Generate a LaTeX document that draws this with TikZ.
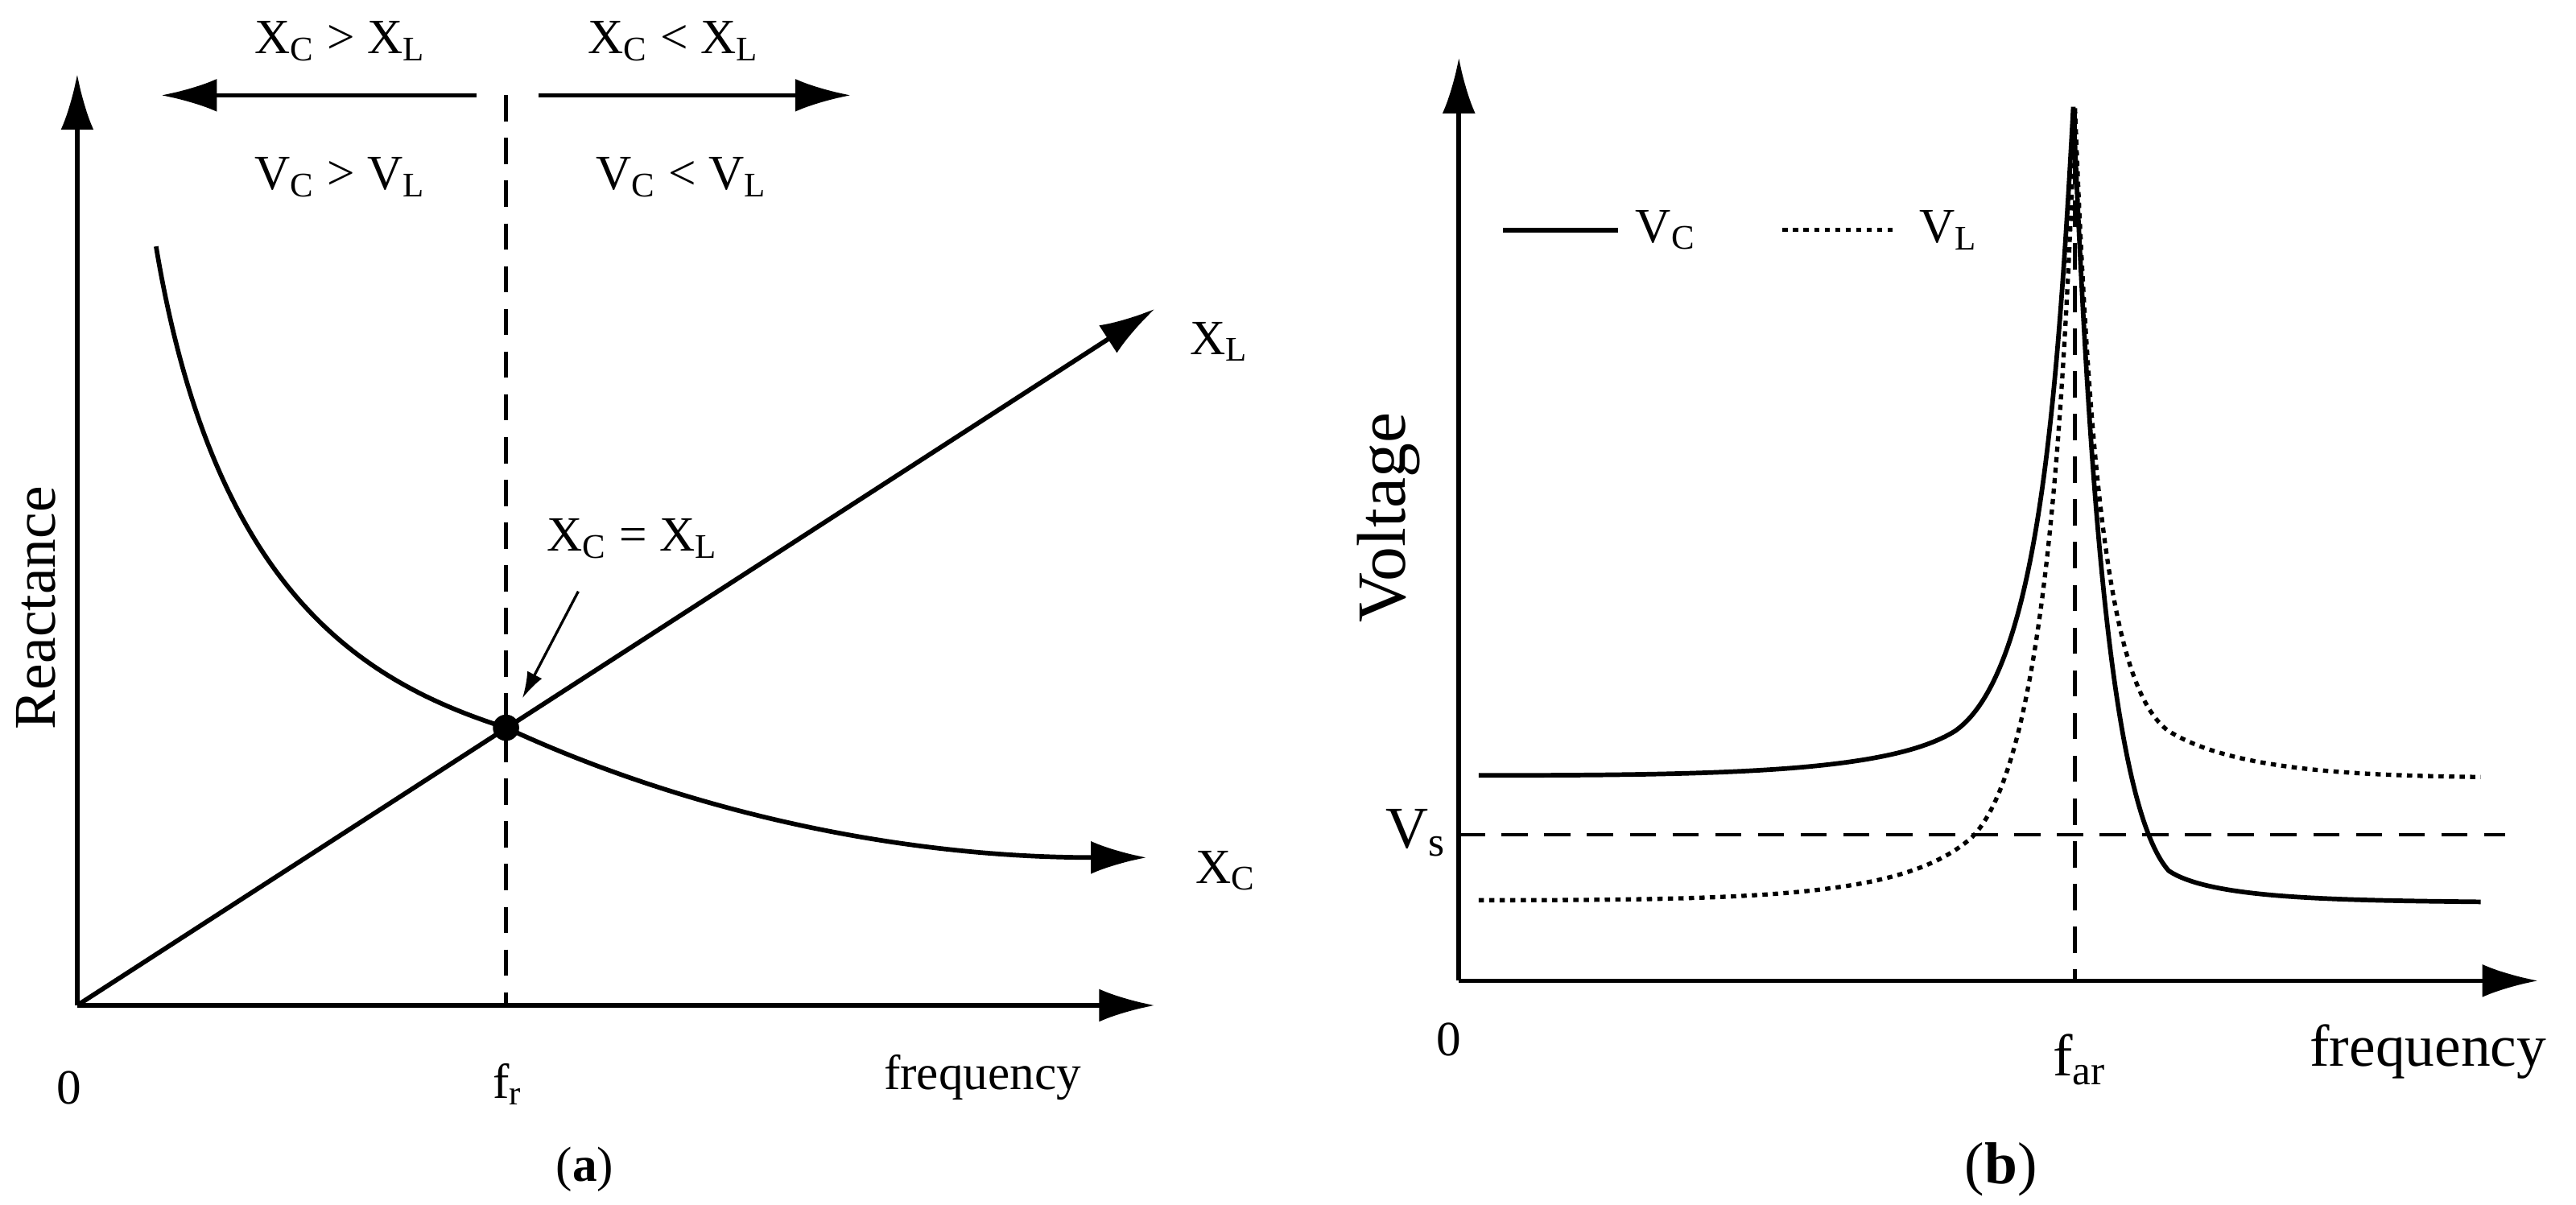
\documentclass[tikz,border=0pt]{standalone}
\usepackage{fontspec}
\setmainfont{Liberation Serif}
\usetikzlibrary{arrows.meta}
\begin{document}
\begin{tikzpicture}[x=0.5pt,y=-0.5pt,
  ln/.style={line width=1.4pt},
  dotl/.style={line width=1.3pt,dash pattern=on 1.6pt off 1.6pt},
  arr/.style={ln,-{Latex[length=17pt,width=10pt]}},
  lab/.style={font=\fontsize{15}{17}\selectfont,inner sep=0pt},
  labb/.style={font=\fontsize{18}{20}\selectfont,inner sep=0pt},
  dsh/.style={line width=1.1pt,dash pattern=on 8pt off 5pt}]
\useasboundingbox (0,0) rectangle (1568,733.5);
% ---------- (a)
\coordinate (oa) at (47,612);
\coordinate (ya) at (47,45);
\coordinate (xa) at (703,612);
\draw[arr] (oa) -- (ya);
\draw[arr] (oa) -- (xa);
\coordinate (p) at (308,443);
\coordinate (xlend) at (703,188);
\draw[arr] (oa) -- (xlend);
\coordinate (xcs) at (95,150);
\coordinate (xce) at (698,522);
\draw[arr] (xcs) .. controls (130,360) and (220,415) .. (p) .. controls (420,495) and (550,522) .. (xce);
\fill (p) circle (8);
\coordinate (dt) at (308,58);
\coordinate (db) at (308,612);
\draw[dsh] (dt) -- (db);
\coordinate (la1) at (290,58); \coordinate (la2) at (98,58);
\coordinate (ra1) at (328,58); \coordinate (ra2) at (518,58);
\draw[arr] (la1) -- (la2);
\draw[arr] (ra1) -- (ra2);
\node[lab] (t1) at (207,25) {X\textsubscript{C} > X\textsubscript{L}};
\node[lab] (t2) at (410,25) {X\textsubscript{C} < X\textsubscript{L}};
\node[lab] (t3) at (207,108) {V\textsubscript{C} > V\textsubscript{L}};
\node[lab] (t4) at (415,108) {V\textsubscript{C} < V\textsubscript{L}};
\node[lab] (eq) at (385,328) {X\textsubscript{C} = X\textsubscript{L}};
\coordinate (eqa) at (352,360); \coordinate (eqb) at (318,425);
\draw[line width=0.8pt,-{Latex[length=8pt,width=5pt]}] (eqa) -- (eqb);
\node[lab] (xl) at (742,208) {X\textsubscript{L}};
\node[lab] (xc) at (746,530) {X\textsubscript{C}};
\node[lab] (za) at (42,662) {0};
\node[lab] (fr) at (309,660) {f\textsubscript{r}};
\node[lab] (fqa) at (598,656) {frequency};
\node[lab] (ca) at (356,712) {(\textbf{a})};
\node[labb,rotate=90] (rea) at (22,370) {Reactance};
% ---------- (b)
\coordinate (ob) at (888,597);
\coordinate (yb) at (888,35);
\coordinate (xb) at (1545,597);
\draw[arr] (ob) -- (yb);
\draw[arr] (ob) -- (xb);
\coordinate (vs1) at (888,508); \coordinate (vs2) at (1525,508);
\draw[dsh] (vs1) -- (vs2);
\coordinate (fv1) at (1263,70); \coordinate (fv2) at (1263,597);
\draw[dsh] (fv1) -- (fv2);
\draw[ln] (900,472) .. controls (1050,472) and (1150,470) .. (1190,445) .. controls (1240,410) and (1252,250) .. (1262,65) .. controls (1272,300) and (1285,490) .. (1320,530) .. controls (1345,547) and (1420,548) .. (1510,549);
\draw[dotl] (900,548) .. controls (1080,548) and (1160,545) .. (1200,510) .. controls (1240,470) and (1255,300) .. (1263,65) .. controls (1272,300) and (1285,420) .. (1320,445) .. controls (1360,470) and (1440,472) .. (1510,473);
\coordinate (lg1) at (915,140); \coordinate (lg2) at (985,140);
\coordinate (lg3) at (1085,140); \coordinate (lg4) at (1155,140);
\draw[ln] (lg1) -- (lg2);
\draw[dotl] (lg3) -- (lg4);
\node[lab] (lvc) at (1014,140) {V\textsubscript{C}};
\node[lab] (lvl) at (1186,140) {V\textsubscript{L}};
\node[labb] (vs) at (862,507) {V\textsubscript{s}};
\node[lab] (zb) at (882,633) {0};
\node[labb] (far) at (1266,645) {f\textsubscript{ar}};
\node[labb] (fqb) at (1478,640) {frequency};
\node[labb] (cb) at (1218,712) {(\textbf{b})};
\node[font=\fontsize{21}{23}\selectfont,inner sep=0pt,rotate=90] (vol) at (845,315) {Voltage};
\end{tikzpicture}
\end{document}
